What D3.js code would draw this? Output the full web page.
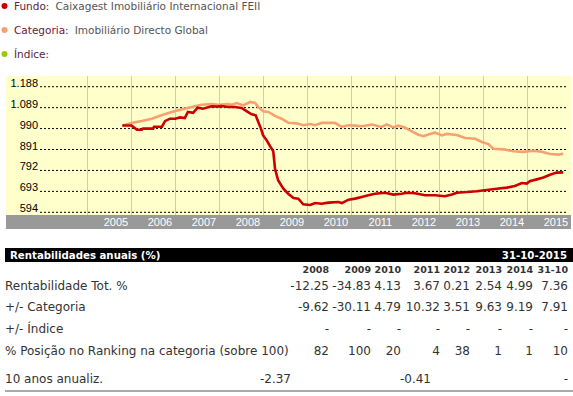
<!DOCTYPE html>
<html><head><meta charset="utf-8">
<script src="https://cdn.jsdelivr.net/npm/d3@7"></script>
<style>
body{margin:0;background:#fff;}
svg{display:block;}
</style></head>
<body>
<svg id="c" width="573" height="396"></svg>
<script>
// ---- data ----
const legendLabels = ["Fundo:", "Categoria:", "Índice:"];
const legendValues = ["Caixagest Imobiliário Internacional FEII", "Imobiliário Directo Global", ""];
const legendColors = ["#cc0000", "#f9a070", "#99cc00"];

const yTickValues = [594, 693, 792, 891, 990, 1089, 1188];
const yTickLabels = ["594", "693", "792", "891", "990", "1.089", "1.188"];
const xYears = [2005, 2006, 2007, 2008, 2009, 2010, 2011, 2012, 2013, 2014, 2015];

const fundoDates = [2005.81,2006.02,2006.14,2006.25,2006.28,2006.51,2006.53,2006.71,2006.78,2006.89,2007.01,2007.12,2007.23,2007.30,2007.42,2007.52,2007.64,2007.84,2007.98,2008.07,2008.21,2008.37,2008.52,2008.64,2008.75,2008.84,2008.90,2008.96,2009.01,2009.09,2009.17,2009.24,2009.28,2009.35,2009.47,2009.58,2009.70,2009.81,2009.92,2010.08,2010.19,2010.34,2010.49,2010.72,2010.80,2010.95,2011.10,2011.25,2011.40,2011.55,2011.78,2011.97,2012.16,2012.27,2012.46,2012.69,2012.92,2013.14,2013.30,2013.41,2013.64,2013.86,2014.09,2014.32,2014.55,2014.73,2014.89,2015.00,2015.07,2015.23,2015.38,2015.53,2015.68,2015.83];
const fundoValues = [1000,1000,980,980,985,985,994,994,1020,1032,1032,1038,1035,1064,1060,1084,1079,1091,1089,1092,1087,1087,1083,1067,1053,1048,1016,985,953,930,901,878,795,741,701,677,657,654,627,624,633,630,635,638,633,649,654,662,670,677,682,673,677,682,679,670,670,665,674,682,685,689,695,701,706,714,728,725,736,745,754,767,777,778];

const catDates = [2005.81,2006.02,2006.25,2006.48,2006.70,2006.93,2007.16,2007.39,2007.61,2007.84,2007.99,2008.22,2008.30,2008.41,2008.56,2008.71,2008.83,2008.90,2009.01,2009.13,2009.28,2009.43,2009.58,2009.77,2009.92,2010.08,2010.19,2010.34,2010.49,2010.64,2010.73,2010.80,2010.95,2011.10,2011.25,2011.48,2011.70,2011.82,2011.97,2012.08,2012.23,2012.39,2012.54,2012.65,2012.80,2012.92,2013.07,2013.18,2013.41,2013.60,2013.83,2013.98,2014.13,2014.24,2014.47,2014.70,2014.92,2015.15,2015.34,2015.53,2015.72,2015.83];
const catValues = [1000,1012,1021,1032,1048,1064,1076,1087,1098,1101,1098,1101,1098,1106,1095,1111,1106,1087,1067,1064,1045,1032,1013,1010,1001,1007,1001,1012,1012,1012,1001,994,1001,999,996,1004,993,1005,991,999,990,972,956,949,960,966,953,960,955,941,937,922,912,890,887,878,875,881,876,865,862,866];

const tableTitle = "Rentabilidades anuais (%)";
const tableDate = "31-10-2015";
const colHeaders = ["2008", "2009", "2010", "2011", "2012", "2013", "2014", "31-10"];
const rowLabels = ["Rentabilidade Tot. %", "+/- Categoria", "+/- Índice", "% Posição no Ranking na categoria (sobre 100)"];
const rowRentab = ["-12.25", "-34.83", "4.13", "3.67", "0.21", "2.54", "4.99", "7.36"];
const rowCategoria = ["-9.62", "-30.11", "4.79", "10.32", "3.51", "9.63", "9.19", "7.91"];
const rowIndice = ["-", "-", "-", "-", "-", "-", "-", "-"];
const rowRanking = ["82", "100", "20", "4", "38", "1", "1", "10"];
const annualLabel = "10 anos anualiz.";
const annualValues = ["-2.37", "-0.41", "-"];

// ---- drawing ----
const svg = d3.select("#c");
const plot = {left: 6, right: 571, top: 76, bottom: 215, axisH: 14};

// legend
const leg = svg.append("g");
legendLabels.forEach((lab, i) => {
  const cy = 6 + i * 24;
  leg.append("circle").attr("cx", 4.5).attr("cy", cy).attr("r", 3).attr("fill", legendColors[i]);
  const t = leg.append("text").attr("x", 14).attr("y", cy + 4)
    .style("font-family", "DejaVu Sans, Verdana, sans-serif").style("font-size", "10.5px");
  t.append("tspan").attr("fill", "#5e2440").text(lab);
  if (legendValues[i]) t.append("tspan").attr("fill", "#555").attr("dx", 6).text(legendValues[i]);
});

const x = d3.scaleLinear().domain([2005, 2016]).range([86.7, 570.7]);
const y = d3.scaleLinear().domain([594, 1188]).range([211.3, 85.7]);

svg.append("rect").attr("x", plot.left).attr("y", plot.top)
  .attr("width", plot.right - plot.left).attr("height", plot.bottom - plot.top).attr("fill", "#ffffcc");

// vertical year lines
svg.append("g").selectAll("line").data(xYears).join("line")
  .attr("x1", d => Math.round(x(d)) + 0.5).attr("x2", d => Math.round(x(d)) + 0.5)
  .attr("y1", plot.top).attr("y2", plot.bottom)
  .attr("stroke", "#d4d0a4").attr("stroke-width", 1);

// y axis with dotted grid
const yAxis = d3.axisLeft(y).tickValues(yTickValues)
  .tickFormat((d, i) => yTickLabels[i]).tickSize(-(567 - 40)).tickPadding(2);
const yg = svg.append("g").attr("transform", "translate(40,0)").call(yAxis);
yg.select(".domain").remove();
yg.selectAll(".tick line").attr("stroke", "#000").attr("stroke-dasharray", "2,2")
  .attr("transform", "translate(0,0.5)");
yg.selectAll(".tick text").attr("fill", "#000")
  .style("font-family", "Liberation Sans, Arial, sans-serif").style("font-size", "11px")
  .attr("dy", "0.05em");

// x axis band
svg.append("rect").attr("x", plot.left).attr("y", plot.bottom)
  .attr("width", plot.right - plot.left).attr("height", plot.axisH).attr("fill", "#999999");
const xAxis = d3.axisBottom(x).tickValues(xYears.map(d => d + 1))
  .tickFormat(d => String(d - 1)).tickSize(0).tickPadding(0);
const xg = svg.append("g").attr("transform", `translate(0,${plot.bottom})`).call(xAxis);
xg.select(".domain").remove();
xg.selectAll(".tick text").attr("fill", "#fff").attr("text-anchor", "end")
  .attr("x", -3).attr("y", 11).attr("dy", 0)
  .style("font-family", "Liberation Sans, Arial, sans-serif").style("font-size", "11px");

// lines
const line = d3.line().x(d => x(d[0])).y(d => y(d[1]));
svg.append("path").datum(d3.zip(catDates, catValues)).attr("d", line)
  .attr("fill", "none").attr("stroke", legendColors[1]).attr("stroke-width", 2.6);
svg.append("path").datum(d3.zip(fundoDates, fundoValues)).attr("d", line)
  .attr("fill", "none").attr("stroke", legendColors[0]).attr("stroke-width", 2.6);

// table
const tf = "DejaVu Sans, Verdana, sans-serif";
svg.append("rect").attr("x", 5).attr("y", 248).attr("width", 568).attr("height", 14).attr("fill", "#000");
svg.append("text").attr("x", 10).attr("y", 259).attr("fill", "#fff")
  .style("font-family", tf).style("font-size", "10.2px").style("font-weight", "bold").text(tableTitle);
svg.append("text").attr("x", 567).attr("y", 259).attr("fill", "#fff").attr("text-anchor", "end")
  .style("font-family", tf).style("font-size", "10.2px").style("font-weight", "bold").text(tableDate);

const colRight = [329, 371, 401, 440, 470, 502, 533, 568];
svg.append("g").selectAll("text").data(colHeaders).join("text")
  .attr("x", (d, i) => colRight[i]).attr("y", 273).attr("text-anchor", "end")
  .attr("fill", "#333").style("font-family", tf).style("font-size", "9.5px").style("font-weight", "bold")
  .text(d => d);

const rowsY = [290, 311, 333, 355];
const rowsData = [rowRentab, rowCategoria, rowIndice, rowRanking];
rowLabels.forEach((lab, r) => {
  svg.append("text").attr("x", 5).attr("y", rowsY[r]).attr("fill", "#333")
    .style("font-family", tf).style("font-size", "12px").text(lab);
  svg.append("g").selectAll("text").data(rowsData[r]).join("text")
    .attr("x", (d, i) => colRight[i]).attr("y", rowsY[r]).attr("text-anchor", "end")
    .attr("fill", "#333").style("font-family", tf).style("font-size", "12px").text(d => d);
});
svg.append("text").attr("x", 5).attr("y", 383).attr("fill", "#333")
  .style("font-family", tf).style("font-size", "12px").text(annualLabel);
const annualRight = [291, 431, 568];
svg.append("g").selectAll("text").data(annualValues).join("text")
  .attr("x", (d, i) => annualRight[i]).attr("y", 383).attr("text-anchor", "end")
  .attr("fill", "#333").style("font-family", tf).style("font-size", "12px").text(d => d);
svg.append("rect").attr("x", 5).attr("y", 390).attr("width", 568).attr("height", 2).attr("fill", "#aaa");
</script>
</body></html>
